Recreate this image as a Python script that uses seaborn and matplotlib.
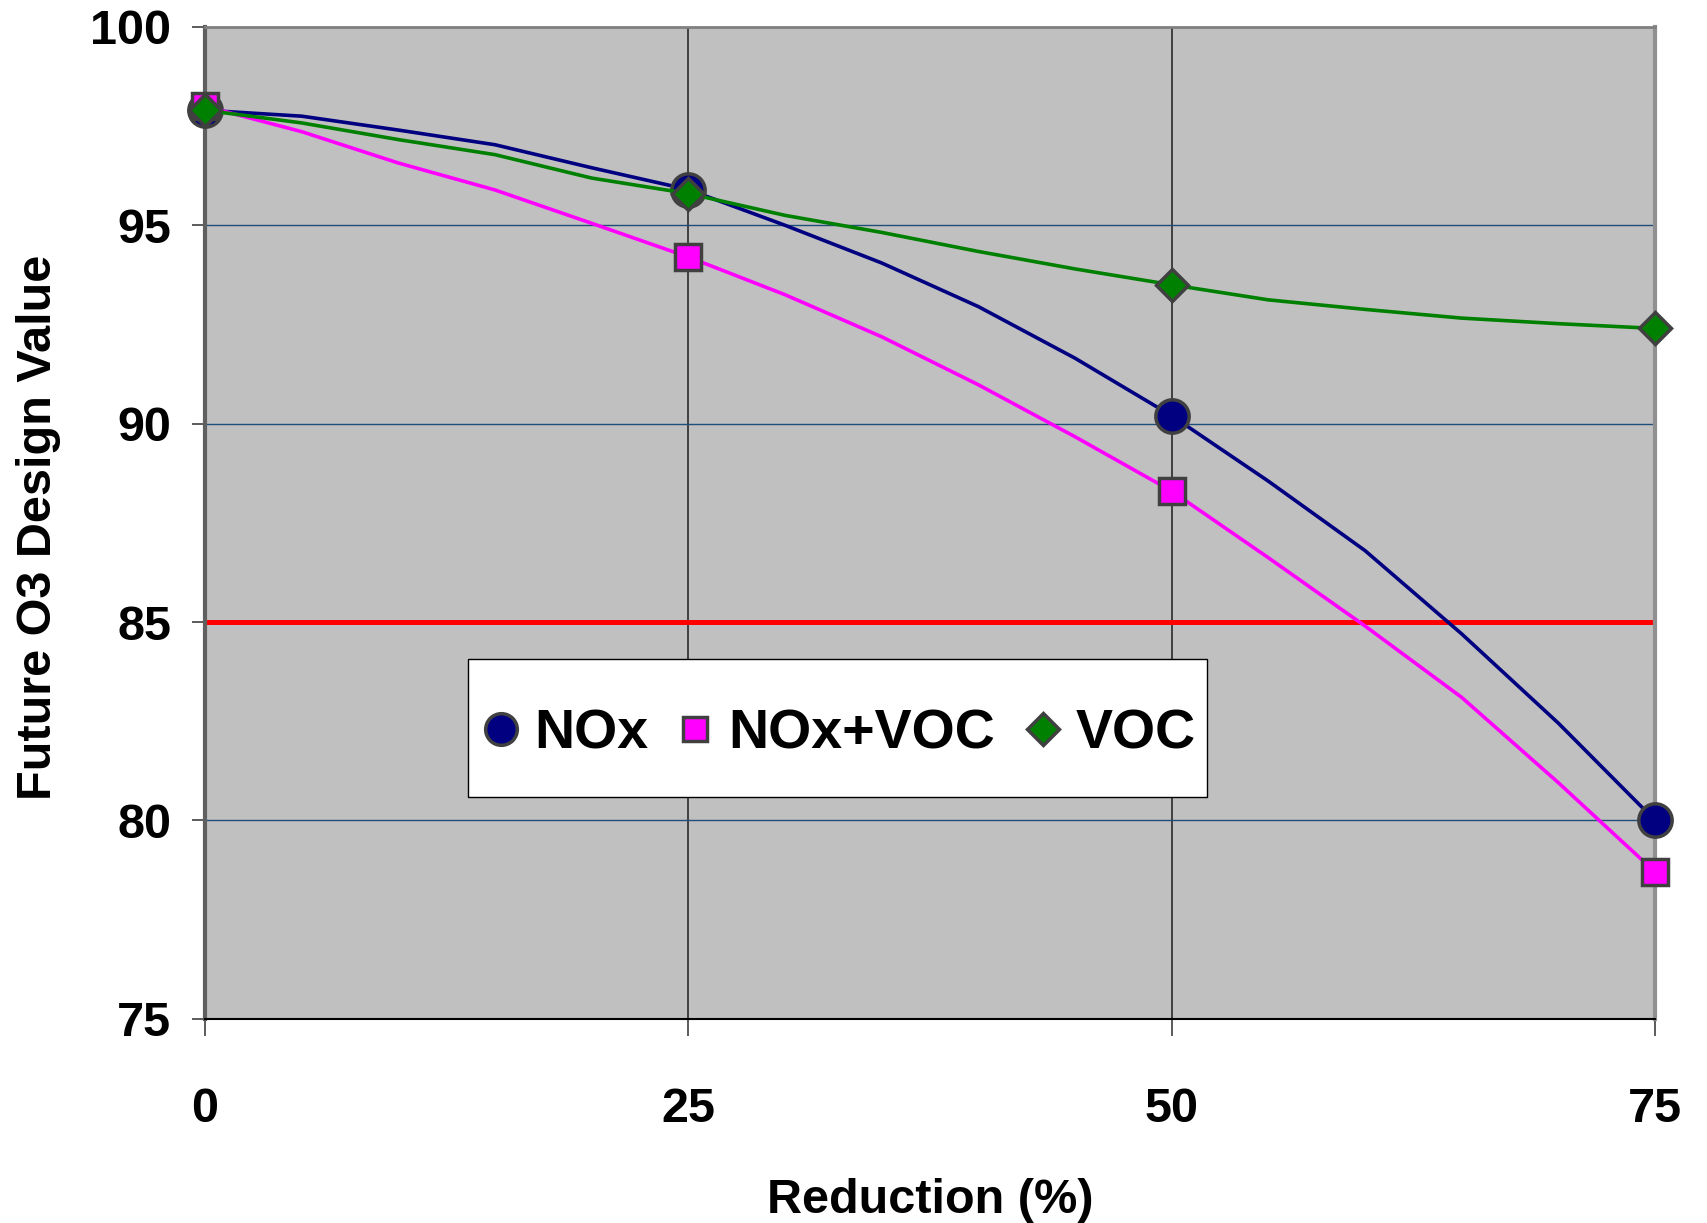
import pandas as pd
import seaborn as sns
import matplotlib.pyplot as plt
from matplotlib.lines import Line2D
from matplotlib.patches import Rectangle

# values (percent reduction vs future O3 design value)
reduction = [0, 5, 10, 15, 20, 25, 30, 35, 40, 45, 50, 55, 60, 65, 70, 75]
nox = [97.9, 97.75, 97.4, 97.03, 96.45, 95.9, 95.0, 94.05, 92.95, 91.65,
       90.2, 88.55, 86.8, 84.7, 82.45, 80.0]
nox_voc = [98.0, 97.36, 96.57, 95.89, 95.05, 94.2, 93.25, 92.19, 90.98, 89.67,
           88.3, 86.62, 84.9, 83.1, 80.95, 78.7]
voc = [97.9, 97.58, 97.16, 96.78, 96.19, 95.8, 95.25, 94.82, 94.34, 93.9,
       93.5, 93.12, 92.88, 92.66, 92.52, 92.4]
marker_at = [0, 25, 50, 75]
standard = 85

names = ["NOx", "NOx+VOC", "VOC"]
colors = {"NOx": "#000080", "NOx+VOC": "#FF00FF", "VOC": "#008000"}
markers = {"NOx": "o", "NOx+VOC": "s", "VOC": "D"}
msizes = {"NOx": 24, "NOx+VOC": 18.5, "VOC": 16.8}

df = pd.DataFrame({"Reduction": reduction, "NOx": nox, "NOx+VOC": nox_voc, "VOC": voc})
long_df = df.melt(id_vars="Reduction", var_name="Scenario", value_name="DV")

sns.set_theme(style="white")
plt.rcParams['font.family'] = ['Liberation Sans', 'DejaVu Sans']
plt.rcParams['font.weight'] = 'bold'
plt.rcParams['text.color'] = 'black'

fig = plt.figure(figsize=(17.08, 12.23), dpi=100)
ax = fig.add_axes([0.12, 0.167, 0.849, 0.811])
ax.set_facecolor('#C0C0C0')

ax.axhline(standard, color='#FF0000', lw=3.6, zorder=1.8)

mark_idx = [reduction.index(v) for v in marker_at]
for name in names:
    sub = long_df[long_df.Scenario == name]
    sns.lineplot(data=sub, x="Reduction", y="DV", ax=ax, color=colors[name],
                 marker=markers[name], markersize=msizes[name], markevery=mark_idx,
                 markeredgecolor='#404040', markeredgewidth=2.5, linewidth=2.6,
                 legend=False, zorder=3, clip_on=False)

ax.set_xlim(0, 75)
ax.set_ylim(75, 100)
ax.set_xticks(marker_at)
ax.set_yticks(range(75, 101, 5))
ax.grid(axis='y', color='#1F4E79', lw=1.0)
ax.grid(axis='x', color='#404040', lw=1.4)
ax.set_axisbelow(True)

ax.tick_params(axis='x', bottom=True, length=12, width=1.2, pad=37,
               labelsize=35, color='#404040', labelcolor='black')
ax.tick_params(axis='y', left=True, length=9.4, width=1.2, pad=15,
               labelsize=35, color='#404040', labelcolor='black')
for lab in ax.get_xticklabels() + ax.get_yticklabels():
    lab.set_fontweight('bold')

ax.spines['left'].set(color='#606060', lw=3)
ax.spines['top'].set(color='#808080', lw=2)
ax.spines['right'].set(color='#909090', lw=3)
ax.spines['bottom'].set(color='black', lw=1.5)

ax.set_xlabel("Reduction (%)", fontsize=35, fontweight='bold', color='black')
ax.set_ylabel("Future O3 Design Value", fontsize=35, fontweight='bold', color='black')
ax.xaxis.set_label_coords(0.5, -0.161)
ax.yaxis.set_label_coords(-0.099, 0.495)

# legend box drawn separately so its size matches the original
ax.add_patch(Rectangle((0.1817, 0.2231), 0.509, 0.1396, transform=ax.transAxes,
                       facecolor='white', edgecolor='black', lw=1.0, zorder=4))
handles = [Line2D([], [], linestyle='none', marker=markers[n], markersize=msizes[n] * 0.95,
                  markerfacecolor=colors[n], markeredgecolor='#404040', markeredgewidth=2.5)
           for n in names]
leg = ax.legend(handles, names, loc='center', bbox_to_anchor=(0.437, 0.287),
                ncol=3, frameon=False, prop={'size': 40, 'weight': 'bold'},
                labelcolor='black', handletextpad=0.25, columnspacing=0.5,
                borderpad=0.2, borderaxespad=0, handlelength=0.7)
leg.set_zorder(5)

fig.savefig("out.png", dpi=100)
